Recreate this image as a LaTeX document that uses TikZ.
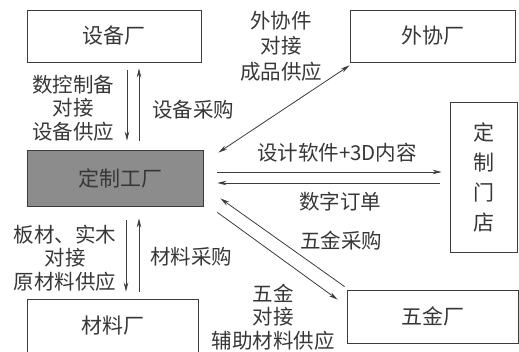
\documentclass[tikz,border=0pt]{standalone}
\usepackage{fontspec}
\setmainfont{Noto Sans CJK SC}
\usetikzlibrary{arrows.meta}
\definecolor{linec}{RGB}{60,60,60}
\definecolor{textc}{RGB}{55,55,55}
\definecolor{fillc}{RGB}{140,140,140}
\tikzset{
  box/.style={draw=linec, line width=0.9pt, inner sep=0pt, text=textc,
    font=\fontsize{21}{24}\selectfont},
  lbl/.style={inner sep=0pt, align=center, text=textc,
    font=\fontsize{20.5}{23.5}\selectfont},
  arr/.style={draw=linec, line width=0.8pt, -{Stealth[length=9pt,width=4.5pt]}},
  darr/.style={draw=linec, line width=0.8pt, {Stealth[length=9pt,width=4.5pt]}-{Stealth[length=9pt,width=4.5pt]}},
  ln/.style={draw=linec, line width=0.8pt}
}
\begin{document}
\begin{tikzpicture}[x=1pt,y=-1pt]
\useasboundingbox (0,0) rectangle (519,351);
% boxes
\node[box, minimum width=174pt, minimum height=52pt] (sb) at (114,36) {设备厂};
\node[box, minimum width=165pt, minimum height=52pt] (wx) at (432.5,36) {外协厂};
\node[box, fill=fillc, minimum width=176pt, minimum height=56pt] (dz) at (115,178) {\hspace*{10pt}定制工厂};
\node[box, minimum width=67pt, minimum height=150pt, align=center,
  font=\fontsize{21}{30}\selectfont] (md) at (483.5,177) {定\\制\\门\\店};
\node[box, minimum width=171pt, minimum height=54pt] (cl) at (112.5,326) {材料厂};
\node[box, minimum width=171pt, minimum height=53pt] (wj) at (432.5,316.5) {五金厂};
% labels
\node[lbl] (l1) at (73,108) {数控制备\\对接\\设备供应};
\node[lbl] (l2) at (193,110) {设备采购};
\node[lbl] (l3) at (65,258) {板材、实木\\对接\\原材料供应};
\node[lbl] (l4) at (191,257) {材料采购};
\node[lbl, font=\fontsize{20.5}{25.5}\selectfont] (l5) at (281,46) {外协件\\对接\\成品供应};
\node[lbl] (l6) at (337,153) {设计软件+3D内容};
\node[lbl] (l7) at (340,202) {数字订单};
\node[lbl] (l8) at (341,241) {五金采购};
\node[lbl] (l9) at (273,317) {五金\\对接\\辅助材料供应};
% connectors
\draw[arr] ([xshift=13pt,yshift=-8pt]sb.south) -- ([xshift=12pt,yshift=9pt]dz.north);
\draw[arr] ([xshift=24pt,yshift=9pt]dz.north) -- ([xshift=25pt,yshift=-6pt]sb.south);
\draw[arr] ([xshift=11pt,yshift=-14pt]dz.south) -- ([xshift=13.5pt,yshift=7pt]cl.north);
\draw[arr] ([xshift=26.5pt,yshift=7pt]cl.north) -- ([xshift=24pt,yshift=-12pt]dz.south);
\draw[darr] ([xshift=15pt,yshift=-3pt]dz.north east) -- ([yshift=-3pt]wx.south west);
\draw[arr] ([xshift=14pt,yshift=6pt]dz.east) -- ([xshift=-8pt,yshift=5pt]md.west);
\draw[arr] ([xshift=-10pt,yshift=-6pt]md.west) -- ([xshift=14pt,yshift=-5pt]dz.east);
\draw[arr] ([xshift=-2pt,yshift=3pt]wj.north west) -- ([xshift=17pt,yshift=8pt]dz.south east);
\draw[arr] ([xshift=14pt,yshift=-6pt]dz.south east) -- ([xshift=-9pt,yshift=-10pt]wj.north west);
\end{tikzpicture}
\end{document}
